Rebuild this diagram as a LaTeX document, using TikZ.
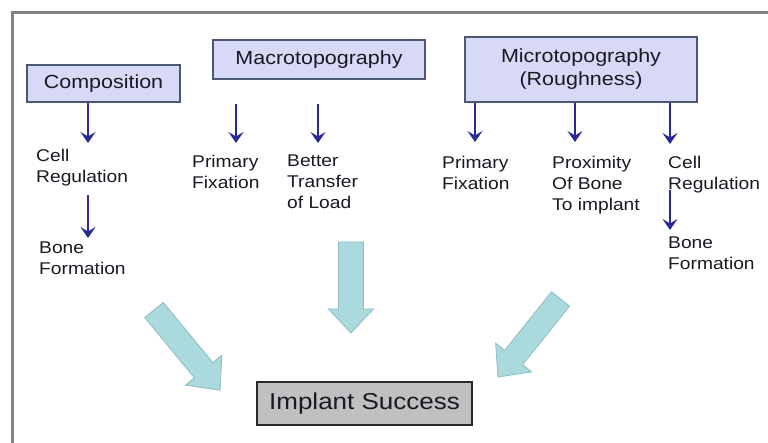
\documentclass[tikz,border=0pt]{standalone}
\usepackage{fontspec}
\setmainfont{Liberation Sans}[FakeStretch=1.13]
\usetikzlibrary{arrows.meta,calc}
\definecolor{framec}{RGB}{130,130,130}
\definecolor{boxfill}{RGB}{216,216,247}
\definecolor{boxdraw}{RGB}{75,88,115}
\definecolor{implfill}{RGB}{192,192,192}
\definecolor{impldraw}{RGB}{40,40,40}
\definecolor{bluec}{RGB}{42,42,150}
\definecolor{fatfill}{RGB}{170,218,222}
\definecolor{fatdraw}{RGB}{140,190,196}
\definecolor{textc}{RGB}{25,25,35}
\newcommand{\FatArrow}[7]{%
  \begin{scope}[shift={(#1,#2)},rotate=#3]
    \draw[fatarrow] (0,{-#5/2}) -- ({#4-#7},{-#5/2}) -- ({#4-#7},{-#6/2}) -- (#4,0)
      -- ({#4-#7},{#6/2}) -- ({#4-#7},{#5/2}) -- (0,{#5/2}) -- cycle;
  \end{scope}}
\tikzset{
  topbox/.style={draw=boxdraw, line width=1.8pt, fill=boxfill, inner sep=0pt,
    align=center, text=textc, font=\fontsize{19}{23}\selectfont},
  implbox/.style={draw=impldraw, line width=2.2pt, fill=implfill, inner sep=0pt,
    text=textc, font=\fontsize{23}{27}\selectfont},
  txt/.style={anchor=north west, inner sep=0pt, align=left, text=textc,
    font=\fontsize{17}{21}\selectfont},
  barrow/.style={draw=bluec, line width=2.2pt, -{Stealth[length=11pt,width=15pt,inset=4.5pt]}},
  fatarrow/.style={draw=fatdraw, line width=0.8pt, fill=fatfill, line join=miter},
  framel/.style={draw=framec, line width=3pt}
}
\begin{document}
\begin{tikzpicture}[x=1pt,y=-1pt]
\useasboundingbox (0,0) rectangle (768,443);
\fill[white] (0,0) rectangle (768,443);
\draw[framel] (12,443) -- (12,13) -- (768,13);

% top boxes
\node[topbox, minimum width=153pt, minimum height=37pt] (comp) at (103.5,83.5) {Composition};
\node[topbox, minimum width=212pt, minimum height=39pt] (macro) at (319,59.5) {Macrotopography};
\node[topbox, minimum width=232pt, minimum height=65pt] (micro) at (581,69.5) {Microtopography\\(Roughness)};
\node[implbox, minimum width=215pt, minimum height=43pt] (impl) at (364.5,403.5) {Implant Success};

% texts
\node[txt] (cellL) at (36,149) {Cell\\Regulation};
\node[txt] (boneL) at (39,242) {Bone\\Formation};
\node[txt] (primA) at (192,155) {Primary\\Fixation};
\node[txt] (load) at (287,155) {Better\\Transfer\\of Load};
\node[txt] (primB) at (442,156) {Primary\\Fixation};
\node[txt] (prox) at (552,156) {Proximity\\Of Bone\\To implant};
\node[txt] (cellR) at (668,156) {Cell\\Regulation};
\node[txt] (boneR) at (668,237) {Bone\\Formation};

% arrow coordinates
\coordinate (t1) at (88,143);
\coordinate (m1) at (236,143);
\coordinate (m2) at (318,143);
\coordinate (u1) at (475,142);
\coordinate (u2) at (575,142);
\coordinate (u3) at (670,144);
\coordinate (c1s) at (88,195);
\coordinate (c1t) at (88,238);
\coordinate (c2s) at (670,190);
\coordinate (c2t) at (670,230);

\draw[barrow] (comp.south -| t1) -- (t1);
\draw[barrow, shorten <=24pt] (macro.south -| m1) -- (m1);
\draw[barrow, shorten <=24pt] (macro.south -| m2) -- (m2);
\draw[barrow] (micro.south -| u1) -- (u1);
\draw[barrow] (micro.south -| u2) -- (u2);
\draw[barrow] (micro.south -| u3) -- (u3);
\draw[barrow] (c1s) -- (c1t);
\draw[barrow] (c2s) -- (c2t);

% big arrows
\FatArrow{154}{310}{-50.5}{104}{24}{47}{26}
\FatArrow{351}{242}{-90}{91}{25}{45}{24}
\FatArrow{560.5}{299}{-128.7}{100}{23}{46}{25}
\end{tikzpicture}
\end{document}
